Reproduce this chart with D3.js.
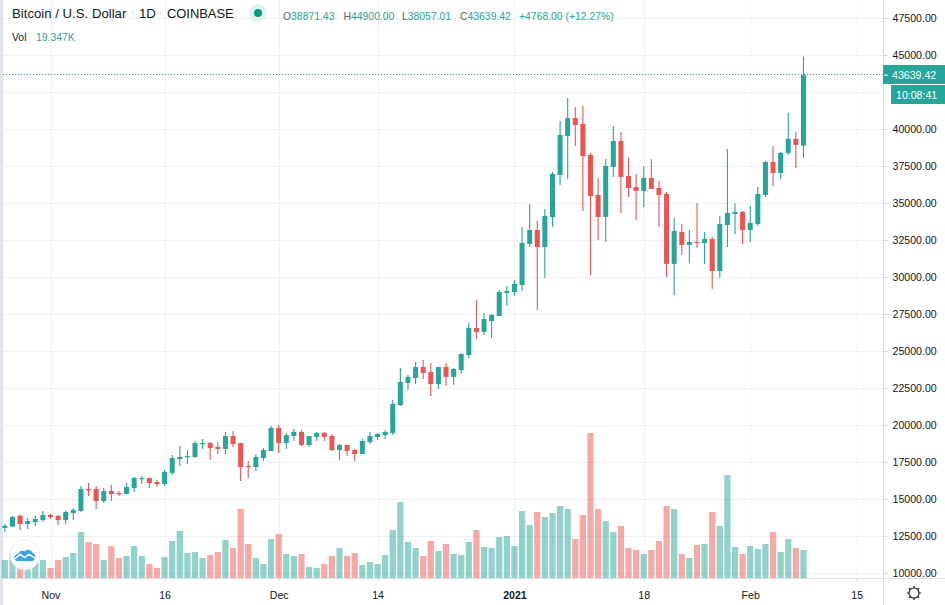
<!DOCTYPE html>
<html>
<head>
<meta charset="utf-8">
<title>Bitcoin / U.S. Dollar</title>
<script src="https://cdn.jsdelivr.net/npm/d3@7/dist/d3.min.js"></script>
<style>
  html, body { margin: 0; padding: 0; background: #fff; overflow: hidden; }
  svg { display: block; }
  text { font-family: "Liberation Sans", Arial, sans-serif; }
</style>
</head>
<body>
<svg id="chart" width="945" height="605"></svg>
<script>
// daily candles, Oct 26 2020 -> Feb 8 2021
const firstDay = "2020-10-26";
const opens = [13030,13120,13860,13300,13430,13570,13910,13840,13570,14040,14180,15660,15660,14850,15530,15390,15330,15730,16340,16410,16140,16000,
  16750,17690,17830,17830,18710,18770,18500,18370,19250,18770,17220,17150,17760,18230,19790,18770,19250,19520,18640,19180,19450,19250,18300,18640,18300,18030,18840,19180,19310,19450,
  21340,22830,23170,23910,23570,22760,23910,23240,23710,24720,26550,26280,27020,27360,28910,28980,29450,32230,33170,32020,34050,36890,39530,40740,40340,38240,35540,34050,37430,39190,
  36820,36080,35810,36690,36010,35610,30880,33040,32160,32360,32290,32560,30400,33510,34250,34390,33170,33580,35540,37770,37030,38380,39330,38871.43];
const highs = [13300,13840,13910,13700,13840,14180,13980,13910,14180,14380,15870,16070,15870,15730,15940,15530,16070,16480,16540,16410,16270,16950,
  17960,18570,18300,18910,19050,18840,18840,19520,19590,18770,17560,18030,18440,19920,19990,19450,19720,19650,19250,19520,19520,19380,18710,18640,18370,19050,19520,19450,19650,21680,
  23840,23370,24250,24390,24180,23910,24180,23840,24860,26890,28440,27560,27490,29120,29390,29790,33380,34930,33780,34590,37090,40540,42100,41490,41560,38380,36690,37970,40200,39800,
  38040,36960,37500,37970,36490,35740,33980,33580,33170,35000,33040,32700,34120,38650,35000,34460,34800,36080,37840,38850,38450,41080,39800,44900];
const lows = [12780,13100,12890,12960,13160,13430,13640,13230,13300,13570,14110,15190,14310,14720,14850,15190,15330,15460,16000,15730,15800,15870,
  16610,17220,17360,17760,18370,17630,18030,18030,18500,16210,16410,16880,17560,18230,18100,18370,18910,18570,18500,18910,18910,18230,17630,17900,17560,18030,18710,18980,19050,19310,
  21280,22360,22760,23100,21950,22420,22630,22690,23440,24520,25810,26080,25870,27360,28040,28710,29050,32020,27770,29930,33380,36220,36620,38850,34460,30130,32500,32360,36760,34320,
  35400,33850,34730,35950,33380,30000,28780,31480,30940,31960,30880,29190,29930,32020,32900,32230,32360,33440,35400,36150,36620,38240,37360,38057.01];
const closes = [13180,13770,13300,13500,13640,13910,13770,13570,14110,14250,15660,15600,14850,15530,15330,15330,15800,16410,16410,16070,16000,16810,
  17760,17830,17890,18770,18770,18440,18370,19250,18710,17150,17150,17830,18300,19790,18770,19310,19520,18640,19250,19450,19180,18300,18640,18230,18030,18910,19250,19380,19520,21410,
  22900,23240,23910,23510,22760,23910,23240,23780,24790,26550,26280,27160,27430,28980,29050,29520,32290,33170,32020,34120,36960,39600,40740,40270,38180,35470,34050,37500,39190,36760,
  36010,35810,36690,35950,35540,30880,33110,32160,32360,32290,32560,30400,33580,34320,34390,33170,33650,35610,37770,37030,38380,39330,38920,43639.42];
const volumes = [12420,17020,12880,10120,12420,12420,6900,12420,14490,17250,31740,24840,23460,12420,22080,13800,15180,22080,15180,9660,6900,14490,
  25530,32430,17250,17940,13800,15870,17940,26220,20700,47610,23460,13800,9660,26910,30360,16560,15180,16560,7590,6900,9660,15180,20700,15180,17250,8970,11040,9660,15870,33120,
  52440,24840,20700,15180,25530,18630,23460,16560,15870,24840,33120,21390,20700,28290,28980,22080,46230,36570,45540,42090,44850,49680,47610,26910,43470,100050,47610,39330,31740,35880,
  20700,19320,16560,19320,25530,49680,47610,16560,13800,22770,23460,45540,35880,71070,21390,16560,22080,20010,23460,31740,17940,26910,20700,19347];

const gridPrices = [10000,12500,15000,17500,20000,22500,25000,27500,30000,32500,35000,37500,40000,42500,45000,47500];
// 42500 sits behind the countdown tag in the picture, so no label for it
const priceTicks = [10000,12500,15000,17500,20000,22500,25000,27500,30000,32500,35000,37500,40000,45000,47500];
const timeTicks = ["2020-11-01","2020-11-16","2020-12-01","2020-12-14","2021-01-01","2021-01-18","2021-02-01","2021-02-15"];
const timeLabels = ["Nov","16","Dec","14","2021","18","Feb","15"];
const lastPrice = 43639.42;
const countdown = "10:08:41";
const headerOhlc = [["O","38871.43"],["H","44900.00"],["L","38057.01"],["C","43639.42"]];
const headerChange = "+4768.00 (+12.27%)";
const volLabel = "19.347K";

const UP = "#26a69a", DOWN = "#ef5350", GRID = "#f0f1f4", AXIS = "#dcdee2", INK = "#131722";
const plotLeft = 3, plotRight = 883, plotBottom = 578;

const parseDay = d3.utcParse("%Y-%m-%d");
const days = opens.map((d, i) => d3.utcDay.offset(parseDay(firstDay), i));
const candles = opens.map((d, i) => ({
  day: days[i], open: d, high: highs[i], low: lows[i], close: closes[i], vol: volumes[i]
}));

const svg = d3.select("#chart");

const x = d3.scaleUtc()
  .domain([parseDay("2020-11-01"), parseDay("2021-02-15")])
  .range([50.5, 856.7]);
const y = d3.scaleLinear().domain([10000, 45000]).range([572.8, 55]);
const yVol = d3.scaleLinear().domain([0, 100050]).range([plotBottom, 433]);

// left strip of the page behind the chart
svg.append("rect").attr("x", 0).attr("y", 0).attr("width", plotLeft).attr("height", 605).attr("fill", "#e0e3eb");

// grid
svg.append("g").selectAll("line").data(gridPrices).enter().append("line")
  .attr("x1", plotLeft).attr("x2", plotRight)
  .attr("y1", d => Math.round(y(d)) + 0.5).attr("y2", d => Math.round(y(d)) + 0.5)
  .attr("stroke", GRID).attr("stroke-width", 1);
svg.append("g").selectAll("line").data(timeTicks).enter().append("line")
  .attr("y1", 0).attr("y2", plotBottom)
  .attr("x1", d => Math.round(x(parseDay(d))) + 0.5).attr("x2", d => Math.round(x(parseDay(d))) + 0.5)
  .attr("stroke", GRID).attr("stroke-width", 1);

// volume bars sit under the candles
svg.append("g").selectAll("rect").data(candles).enter().append("rect")
  .attr("x", d => x(d.day) - 3.1)
  .attr("width", 6.2)
  .attr("y", d => yVol(d.vol))
  .attr("height", d => plotBottom - yVol(d.vol))
  .attr("fill", d => d.close >= d.open ? UP : DOWN)
  .attr("fill-opacity", 0.5);

// last price line
svg.append("line")
  .attr("x1", plotLeft).attr("x2", plotRight)
  .attr("y1", Math.round(y(lastPrice)) - 0.5).attr("y2", Math.round(y(lastPrice)) - 0.5)
  .attr("stroke", UP).attr("stroke-width", 1).attr("stroke-dasharray", "1,2");

// candles
const candle = svg.append("g").selectAll("g").data(candles).enter().append("g")
  .attr("fill", d => d.close >= d.open ? UP : DOWN)
  .attr("stroke", d => d.close >= d.open ? UP : DOWN);
candle.append("line")
  .attr("x1", d => x(d.day)).attr("x2", d => x(d.day))
  .attr("y1", d => y(d.high)).attr("y2", d => y(d.low))
  .attr("stroke-width", 1.1);
candle.append("rect")
  .attr("x", d => x(d.day) - 2.5)
  .attr("width", 5)
  .attr("y", d => y(Math.max(d.open, d.close)))
  .attr("height", d => Math.max(1.2, Math.abs(y(d.open) - y(d.close))))
  .attr("stroke", "none");

// price axis
const priceAxis = d3.axisRight(y).tickValues(priceTicks).tickFormat(d3.format(".2f")).tickSize(4).tickPadding(5);
const gPrice = svg.append("g").attr("transform", `translate(${plotRight + 0.5},0)`).call(priceAxis);
gPrice.select(".domain").remove();
gPrice.selectAll(".tick line").attr("stroke", "#cfd2d8");
gPrice.selectAll(".tick text").attr("font-size", 10.6).attr("font-family", '"Liberation Sans", Arial, sans-serif').attr("fill", INK);
svg.append("line").attr("x1", plotRight + 0.5).attr("x2", plotRight + 0.5).attr("y1", 0).attr("y2", 605)
  .attr("stroke", AXIS).attr("stroke-width", 1);

// time axis
const timeAxis = d3.axisBottom(x).tickValues(timeTicks.map(parseDay))
  .tickFormat((d, i) => timeLabels[i]).tickSize(3).tickPadding(10);
const gTime = svg.append("g").attr("transform", `translate(0,${plotBottom})`).call(timeAxis);
gTime.select(".domain").remove();
gTime.selectAll(".tick line").attr("stroke", "#cfd2d8");
gTime.selectAll(".tick text")
  .attr("font-size", 10.6).attr("font-family", '"Liberation Sans", Arial, sans-serif').attr("fill", INK)
  .attr("font-weight", (d, i) => timeLabels[i] === "2021" ? "bold" : "normal");
svg.append("line").attr("x1", plotLeft).attr("x2", 945).attr("y1", plotBottom + 0.5).attr("y2", plotBottom + 0.5)
  .attr("stroke", AXIS).attr("stroke-width", 1);

// last price + countdown tags
const tagY = y(lastPrice);
svg.append("rect").attr("x", 883).attr("y", 65).attr("width", 62).attr("height", 19).attr("fill", UP);
svg.append("line").attr("x1", 884).attr("x2", 888).attr("y1", tagY).attr("y2", tagY).attr("stroke", "#fff");
svg.append("text").attr("x", 892).attr("y", tagY + 4).attr("font-size", 10.6).attr("fill", "#fff").text(d3.format(".2f")(lastPrice));
svg.append("rect").attr("x", 891).attr("y", 85).attr("width", 54).attr("height", 19).attr("fill", UP);
svg.append("text").attr("x", 896).attr("y", 99).attr("font-size", 10.6).attr("fill", "#fff").text(countdown);

// header
svg.append("text").attr("x", 12).attr("y", 18).attr("font-size", 13.2).attr("fill", INK).text("Bitcoin / U.S. Dollar");
svg.append("text").attr("x", 139).attr("y", 18).attr("font-size", 13.2).attr("fill", INK).text("1D");
svg.append("text").attr("x", 167).attr("y", 18).attr("font-size", 12.9).attr("fill", INK).text("COINBASE");
[133, 161].forEach(cx => {
  svg.append("circle").attr("cx", cx).attr("cy", 13).attr("r", 0.8).attr("fill", "#c4c7cf");
});
svg.append("circle").attr("cx", 258).attr("cy", 13).attr("r", 9).attr("fill", "#e0f1ef");
svg.append("circle").attr("cx", 258).attr("cy", 13).attr("r", 4).attr("fill", "#089981");

const ohlcX = [283, 343.5, 402, 460];
headerOhlc.forEach((p, i) => {
  const t = svg.append("text").attr("x", ohlcX[i]).attr("y", 20).attr("font-size", 10.4);
  t.append("tspan").attr("fill", "#5d606b").text(p[0]);
  t.append("tspan").attr("fill", UP).text(p[1]);
});
svg.append("text").attr("x", 519).attr("y", 20).attr("font-size", 10.4).attr("fill", UP).text(headerChange);

svg.append("text").attr("x", 12).attr("y", 41).attr("font-size", 10.4).attr("fill", INK).text("Vol");
svg.append("text").attr("x", 36).attr("y", 41).attr("font-size", 10.4).attr("fill", UP).text(volLabel);

// logo badge
const logo = svg.append("g").attr("transform", "translate(25,555)");
logo.append("circle").attr("r", 15).attr("fill", "#fff").attr("stroke", "#e9ebef").attr("stroke-width", 1);
const cloud = logo.append("g").attr("transform", "translate(-0.5,0) scale(0.85)");
cloud.append("path")
  .attr("d", "M-12,5 C-13,1 -10,-1 -8,-1 C-6,-5 -2,-6 0,-4 C3,-7 7,-7 9,-3 C12,-2 14,2 12,5 C11,7 9,7 7,7 L-9,7 C-10,7 -11,6 -12,5 Z")
  .attr("fill", "#39a0ed");
cloud.append("path")
  .attr("d", "M-12,5 L-5,-1 L0,3 L5,-1 L13,4")
  .attr("fill", "none").attr("stroke", "#fff").attr("stroke-width", 1.8);

// settings gear
const gear = svg.append("g").attr("transform", "translate(914,593)").attr("stroke", INK).attr("fill", "none");
gear.append("circle").attr("r", 5).attr("stroke-width", 1.1);
d3.range(0, 360, 45).forEach(a => {
  const r = a * Math.PI / 180;
  gear.append("line")
    .attr("x1", 5 * Math.cos(r)).attr("y1", 5 * Math.sin(r))
    .attr("x2", 7 * Math.cos(r)).attr("y2", 7 * Math.sin(r))
    .attr("stroke-width", 1.2);
});
</script>
</body>
</html>
